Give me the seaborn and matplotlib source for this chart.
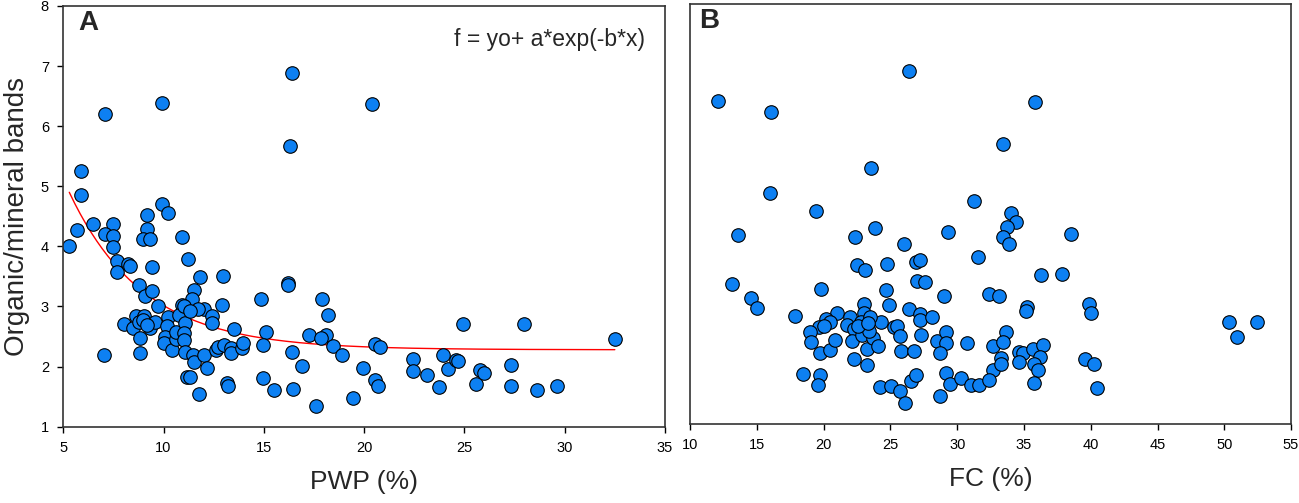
import numpy as np
import matplotlib
matplotlib.use("Agg")
import matplotlib.pyplot as plt
import seaborn as sns

# Panel A: PWP (%) vs organic/mineral bands
pwp = [16.4, 16.3, 9.9, 7.1, 20.4, 5.9, 5.9,
       5.3, 5.7, 6.5, 7.5, 7.1, 7.5, 7.5, 7.7, 7.7, 8.25, 8.35, 9.2, 9.2, 9.0, 9.3, 9.9, 10.2,
       9.4, 10.9, 11.2, 8.8, 9.1, 9.4, 9.7, 11.8, 12.95, 11.5, 11.4, 10.9, 12.0, 11.7, 12.9,
       12.4, 12.4,
       7.05, 8.85, 8.05, 8.5, 8.65, 9.05, 8.8, 9.0, 9.3, 9.55, 8.85, 9.2, 10.2, 10.15, 10.05,
       10.0, 10.4, 10.6, 10.6, 10.75, 11.0, 11.05, 11.0, 11.0, 11.05, 11.45, 11.5, 11.3, 12.0,
       12.15, 12.6, 12.7, 13.0, 11.15, 11.3, 11.75, 13.15, 13.2, 13.5, 13.35, 13.35, 13.9, 13.95,
       14.85, 15.1, 14.95, 14.95, 15.5, 16.2, 16.22, 16.4, 16.45, 16.9, 17.25, 17.6, 17.9, 18.2,
       18.1, 17.85, 18.45, 18.9, 19.45, 19.95, 20.55, 20.8, 20.55, 20.7, 22.45, 22.45, 23.15,
       23.75, 23.95, 24.2, 24.6, 24.7, 24.95, 25.6, 25.8, 26.0, 27.3, 27.3, 27.95, 28.6, 29.6,
       32.5]
bands_a = [6.88, 5.67, 6.39, 6.21, 6.37, 5.26, 4.85,
           4.00, 4.28, 4.37, 4.38, 4.21, 4.18, 3.99, 3.75, 3.57, 3.71, 3.68, 4.53, 4.29, 4.13, 4.12,
           4.71, 4.56, 3.66, 4.15, 3.79, 3.35, 3.18, 3.25, 3.00, 3.49, 3.50, 3.27, 3.12, 3.02, 2.95,
           2.96, 3.02, 2.85, 2.72,
           2.19, 2.22, 2.71, 2.65, 2.84, 2.85, 2.75, 2.78, 2.64, 2.75, 2.47, 2.70, 2.82, 2.68, 2.50,
           2.40, 2.28, 2.46, 2.58, 2.86, 3.00, 2.72, 2.56, 2.45, 2.25, 2.20, 2.07, 2.92, 2.20,
           1.98, 2.28, 2.33, 2.36, 1.83, 1.82, 1.55, 1.72, 1.67, 2.62, 2.31, 2.22, 2.31, 2.40,
           3.13, 2.57, 2.36, 1.81, 1.61, 3.39, 3.36, 2.25, 1.63, 2.01, 2.53, 1.35, 3.13, 2.86,
           2.53, 2.47, 2.35, 2.20, 1.47, 1.98, 2.38, 2.32, 1.78, 1.67, 2.13, 1.92, 1.86,
           1.66, 2.19, 1.96, 2.11, 2.09, 2.71, 1.71, 1.95, 1.90, 2.02, 1.67, 2.71, 1.61, 1.68,
           2.46]

# fitted curve f = yo + a*exp(-b*x), parameters
fit_yo, fit_a, fit_b = 2.28, 10.96, 0.27
fit_range = (5.3, 32.5)

# Panel B: FC (%) vs organic/mineral bands
fc = [12.08, 16.08, 26.43, 23.55, 15.95, 19.43, 13.58, 23.83, 22.38, 29.35, 31.25, 31.55,
      26.05, 22.5, 23.13, 24.75, 26.95, 27.25, 27.0, 27.58, 13.13, 19.8, 24.7, 29.0, 14.55,
      15.05, 17.88, 24.92, 26.38, 27.2, 27.2, 28.13, 23.05, 23.0, 21.0, 20.2, 20.5, 21.95,
      24.3, 19.63, 20.0, 18.95, 19.05, 19.75, 20.45, 20.88, 21.75, 22.25, 22.13, 22.88, 23.25,
      23.7, 24.05, 22.25, 23.25, 25.25, 25.5, 25.75, 25.8, 26.8, 27.3, 28.5, 29.13, 29.13,
      28.75, 30.75, 18.45, 19.75, 19.55, 24.2, 25.05, 25.7, 26.13, 26.55, 26.93, 28.75, 29.18,
      29.5, 30.3, 31.0, 31.6, 32.38, 33.13, 32.7, 32.7, 35.83, 33.43, 34.0, 34.38, 33.75,
      33.43, 33.88, 38.5, 36.25, 37.88, 35.25, 35.15, 39.88, 40.0, 50.38, 52.45, 50.95, 33.63,
      33.45, 33.25, 33.3, 34.63, 34.9, 35.68, 36.45, 36.2, 35.75, 36.05, 34.63, 35.75, 39.58,
      40.25, 40.5, 32.4, 22.8, 23.4, 22.6, 23.5, 23.3]
bands_b = [6.39, 6.20, 6.89, 5.26, 4.84, 4.55, 4.14, 4.26, 4.11, 4.20, 4.71, 3.78,
           3.99, 3.64, 3.57, 3.67, 3.69, 3.73, 3.38, 3.36, 3.33, 3.24, 3.23, 3.13, 3.09,
           2.93, 2.80, 2.97, 2.91, 2.83, 2.73, 2.77, 3.00, 2.84, 2.85, 2.75, 2.70, 2.77,
           2.70, 2.61, 2.63, 2.52, 2.36, 2.17, 2.23, 2.39, 2.64, 2.57, 2.38, 2.48, 2.25,
           2.43, 2.29, 2.07, 1.98, 2.61, 2.62, 2.46, 2.21, 2.21, 2.47, 2.37, 2.53, 2.35,
           2.17, 2.35, 1.83, 1.81, 1.65, 1.61, 1.62, 1.54, 1.34, 1.71, 1.81, 1.46, 1.85,
           1.66, 1.76, 1.64, 1.65, 3.16, 3.13, 2.29, 1.90, 6.37, 5.67, 4.52, 4.37, 4.28,
           4.12, 3.99, 4.17, 3.48, 3.49, 2.94, 2.87, 3.00, 2.84, 2.69, 2.70, 2.45, 2.52,
           2.36, 2.10, 1.99, 2.20, 2.18, 2.24, 2.31, 2.11, 2.00, 1.89, 2.03, 1.67, 2.08,
           2.00, 1.60, 1.72, 2.70, 2.55, 2.62, 2.78, 2.68]

sns.set_style("ticks")
plt.rcParams['font.family'] = ['Liberation Sans', 'DejaVu Sans']

dot_color = '#0d80f2'
spine_color = '#333333'

fig = plt.figure(figsize=(12.99, 5.03), dpi=100)
ax_a = fig.add_axes([0.0487, 0.1517, 0.4632, 0.8364])
ax_b = fig.add_axes([0.5312, 0.158, 0.4627, 0.834])

# panel A
xs = np.linspace(fit_range[0], fit_range[1], 200)
ax_a.plot(xs, fit_yo + fit_a * np.exp(-fit_b * xs), color='red', linewidth=1.0, zorder=1)
sns.scatterplot(x=pwp, y=bands_a, ax=ax_a, color=dot_color, edgecolor='black',
                linewidth=0.8, s=95, zorder=2)
ax_a.set_xlim(5, 35)
ax_a.set_ylim(1, 8)
ax_a.set_xticks(range(5, 36, 5))
ax_a.set_yticks(range(1, 9))
ax_a.set_xlabel("PWP (%)", fontsize=19, labelpad=11)
ax_a.set_ylabel("Organic/mineral bands", fontsize=20, labelpad=8)
ax_a.text(0.025, 0.99, "A", transform=ax_a.transAxes, fontsize=20, fontweight='bold',
          ha='left', va='top')
ax_a.text(0.967, 0.92, "f = yo+ a*exp(-b*x)", transform=ax_a.transAxes, fontsize=16.5,
          ha='right', va='center')

# panel B
sns.scatterplot(x=fc, y=bands_b, ax=ax_b, color=dot_color, edgecolor='black',
                linewidth=0.8, s=95, zorder=2)
ax_b.set_xlim(10, 55)
ax_b.set_ylim(1, 8)
ax_b.set_xticks(range(10, 56, 5))
ax_b.set_yticks([])
ax_b.set_xlabel("FC (%)", fontsize=19, labelpad=11)
ax_b.text(0.015, 0.99, "B", transform=ax_b.transAxes, fontsize=20, fontweight='bold',
          ha='left', va='top')

for ax in (ax_a, ax_b):
    for sp in ax.spines.values():
        sp.set_visible(True)
        sp.set_color(spine_color)
        sp.set_linewidth(1.2)
    ax.tick_params(direction='out', length=4.3, width=1, pad=6, labelsize=10.5, colors='black')

fig.savefig("out.png", dpi=100)
